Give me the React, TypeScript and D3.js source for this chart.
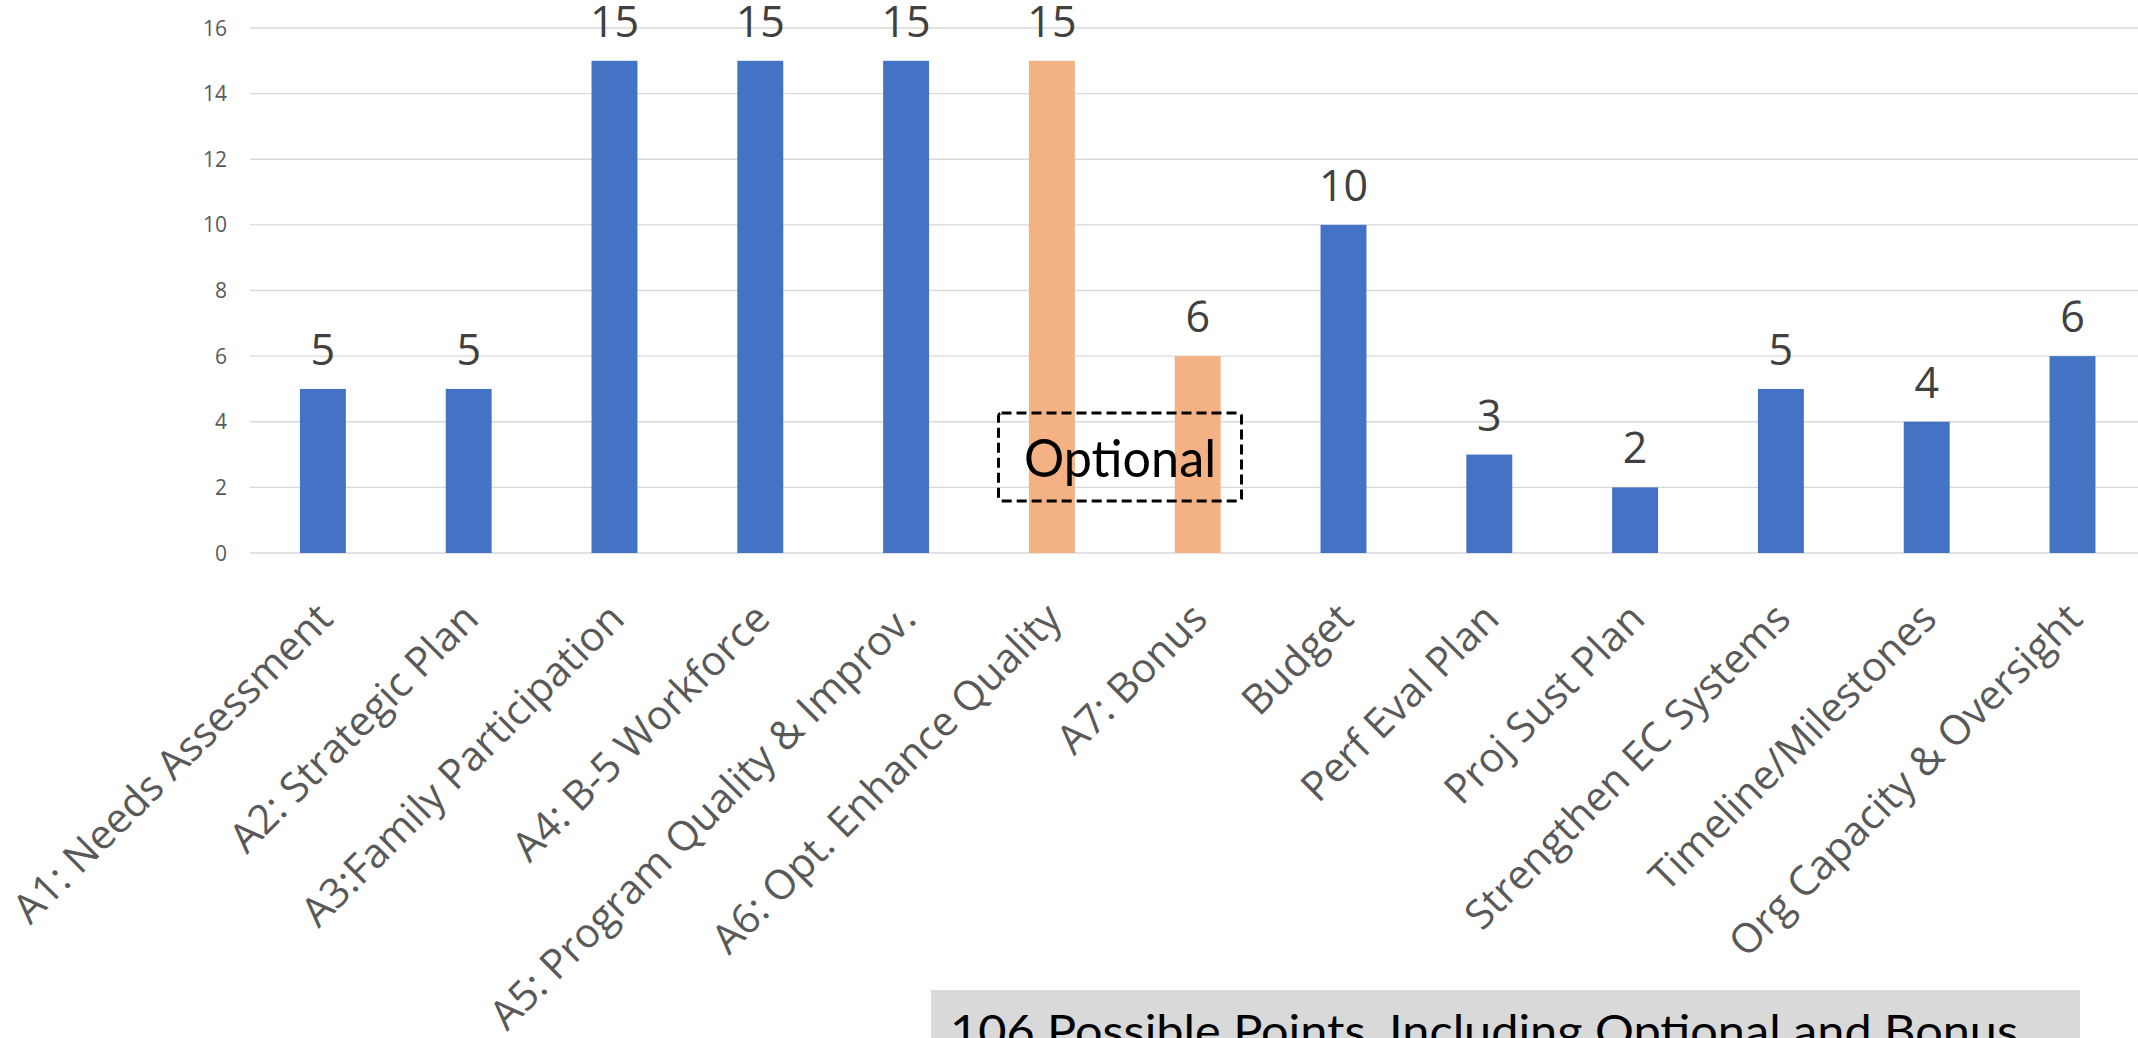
import React from "react";
import * as d3 from "d3";

const categories = [
  "A1: Needs Assessment",
  "A2: Strategic Plan",
  "A3:Family Participation",
  "A4: B-5 Workforce",
  "A5: Program Quality & Improv.",
  "A6: Opt. Enhance Quality",
  "A7: Bonus",
  "Budget",
  "Perf Eval Plan",
  "Proj Sust Plan",
  "Strengthen EC Systems",
  "Timeline/Milestones",
  "Org Capacity & Oversight",
];
const points = [5, 5, 15, 15, 15, 15, 6, 10, 3, 2, 5, 4, 6];
const optional = [false, false, false, false, false, true, true, false, false, false, false, false, false];
const yTicks = [0, 2, 4, 6, 8, 10, 12, 14, 16];
const optionalNote = "Optional";
const totalNote = "106 Possible Points, Including Optional and Bonus";

const W = 2138;
const H = 1038;

export default function App() {
  const x = d3
    .scaleBand<string>()
    .domain(categories)
    .range([250, 250 + 13 * 145.8])
    .paddingInner(0.685)
    .paddingOuter(0.3425);
  const y = d3.scaleLinear().domain([0, 16]).range([553, 28]);

  const font = "'Open Sans', 'Noto Sans', sans-serif";

  return (
    <svg
      width={W}
      height={H}
      style={{ position: "absolute", left: 0, top: 0, background: "#fff" }}
    >
      <rect x={0} y={0} width={W} height={H} fill="#fff" />
      {yTicks.map((t) => (
        <g key={t}>
          <line x1={250} x2={W} y1={y(t)} y2={y(t)} stroke="#D9D9D9" strokeWidth={1.4} />
          <text
            x={227}
            y={y(t) + 7.5}
            textAnchor="end"
            fontFamily={font}
            fontSize={21}
            fill="#595959"
          >
            {t}
          </text>
        </g>
      ))}
      {categories.map((c, i) => {
        const bx = x(c) as number;
        const bw = x.bandwidth();
        const v = points[i];
        const cx = bx + bw / 2;
        return (
          <g key={c}>
            <rect
              x={bx}
              y={y(v)}
              width={bw}
              height={y(0) - y(v)}
              fill={optional[i] ? "#F4B183" : "#4472C4"}
            />
            <text
              x={cx}
              y={y(v) - 24}
              textAnchor="middle"
              fontFamily={font}
              fontSize={43}
              fill="#404040"
            >
              {v}
            </text>
            <text
              transform={`translate(${cx + 12},${y(0) + 68}) rotate(-45)`}
              textAnchor="end"
              fontFamily={font}
              fontSize={41}
              fill="#595959"
            >
              {c}
            </text>
          </g>
        );
      })}
      <rect
        x={998.5}
        y={413}
        width={243}
        height={88}
        rx={3}
        fill="none"
        stroke="#000"
        strokeWidth={3}
        strokeDasharray="10 5"
      />
      <text
        x={1120}
        y={477}
        textAnchor="middle"
        fontFamily="Lato, 'Open Sans', sans-serif"
        fontSize={52}
        fill="#000"
        textLength={192}
        lengthAdjust="spacingAndGlyphs"
      >
        {optionalNote}
      </text>
      <rect x={931} y={990} width={1149} height={60} fill="#D9D9D9" />
      <text
        x={950}
        y={1047}
        fontFamily="Lato, 'Open Sans', sans-serif"
        fontSize={44}
        fill="#000"
        textLength={1068}
        lengthAdjust="spacingAndGlyphs"
      >
        {totalNote}
      </text>
    </svg>
  );
}
